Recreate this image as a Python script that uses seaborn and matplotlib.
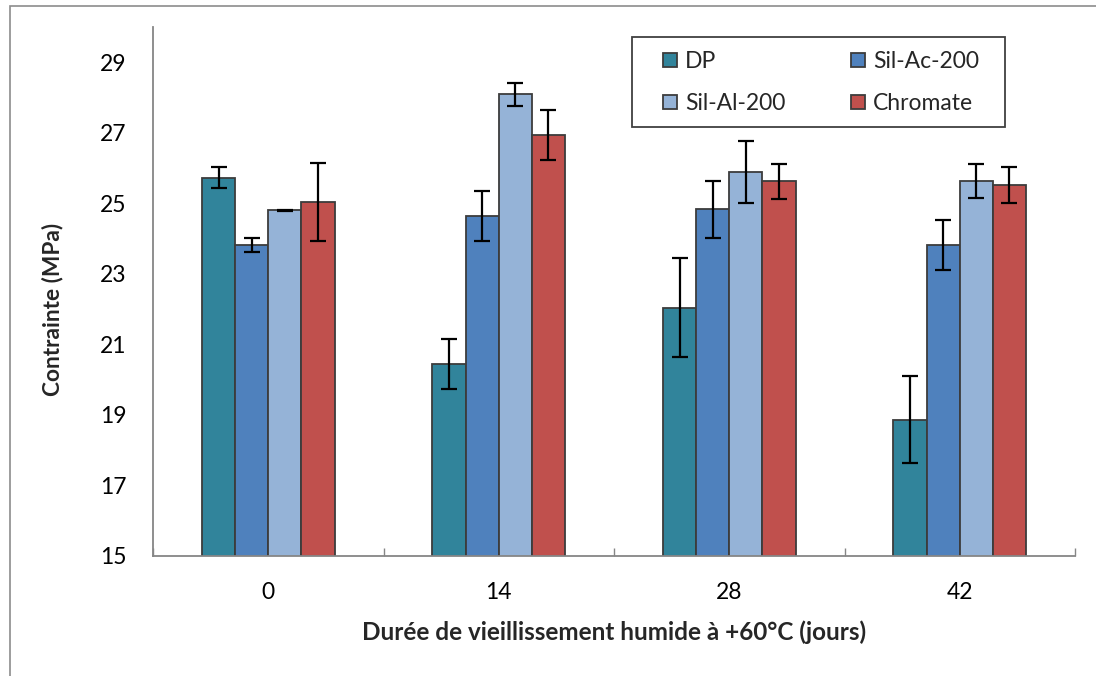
import numpy as np
import pandas as pd
import matplotlib
matplotlib.use("Agg")
import matplotlib.pyplot as plt
from matplotlib.patches import Rectangle
from matplotlib.ticker import FixedLocator
import seaborn as sns

# Ageing durations (days) and tensile stress per surface treatment
days = ["0", "14", "28", "42"]
series = ["DP", "Sil-Ac-200", "Sil-Al-200", "Chromate"]
dp_mean = [25.73, 20.45, 22.04, 18.86]
dp_err = [0.30, 0.71, 1.41, 1.23]
silac_mean = [23.82, 24.64, 24.83, 23.82]
silac_err = [0.20, 0.71, 0.80, 0.70]
silal_mean = [24.80, 28.09, 25.89, 25.63]
silal_err = [0.02, 0.32, 0.88, 0.48]
chromate_mean = [25.03, 26.93, 25.62, 25.52]
chromate_err = [1.10, 0.71, 0.50, 0.50]
colors = ["#31849B", "#4F81BD", "#95B3D7", "#C0504D"]

means = [dp_mean, silac_mean, silal_mean, chromate_mean]
errs = [dp_err, silac_err, silal_err, chromate_err]

df = pd.DataFrame({
    "jours": np.tile(days, len(series)),
    "serie": np.repeat(series, len(days)),
    "contrainte": np.concatenate(means),
})

sns.set_theme(style="white")
plt.rcParams["font.family"] = ["Lato", "DejaVu Sans"]

W, H = 1096, 676
fig = plt.figure(figsize=(W / 100, H / 100), dpi=100)
ax = fig.add_axes([153 / W, 1 - 556 / H, 922 / W, 529 / H])

sns.barplot(data=df, x="jours", y="contrainte", hue="serie", order=days,
            hue_order=series, palette=colors, width=0.575, errorbar=None,
            edgecolor="#3c3c3c", linewidth=1.3, saturation=1, ax=ax)

# Error bars centred on each drawn bar
for cont, err in zip(ax.containers, errs):
    xs = [b.get_x() + b.get_width() / 2 for b in cont]
    ys = [b.get_height() for b in cont]
    ax.errorbar(xs, ys, yerr=err, fmt="none", ecolor="black",
                elinewidth=1.6, capsize=5.5, capthick=1.6, zorder=5)

ax.set_ylim(15, 30)
ax.set_xlim(-0.5, 3.5)
ax.set_yticks(np.arange(15, 30, 2))
ax.tick_params(axis="y", direction="in", length=5, width=1, color="#868686",
               pad=19, labelsize=16.5, labelcolor="black")
ax.tick_params(axis="x", which="major", length=0, pad=19, labelsize=16.5,
               labelcolor="black")
ax.xaxis.set_minor_locator(FixedLocator([-0.5, 0.5, 1.5, 2.5, 3.5]))
ax.tick_params(axis="x", which="minor", direction="in", length=6, width=1,
               color="#868686", bottom=True)

for s in ["top", "right"]:
    ax.spines[s].set_visible(False)
for s in ["left", "bottom"]:
    ax.spines[s].set_color("#868686")
    ax.spines[s].set_linewidth(1.3)

ax.set_xlabel("Durée de vieillissement humide à +60°C (jours)",
              fontsize=17.5, fontweight="bold")
ax.set_ylabel("Contrainte (MPa)", fontsize=16.3, fontweight="bold")
ax.xaxis.set_label_coords(0.5, -0.1437)
ax.yaxis.set_label_coords(-0.1095, 0.467)
ax.xaxis.label.set_va("center")
ax.yaxis.label.set_va("center")

handles, labels = ax.get_legend_handles_labels()
ax.get_legend().remove()
order = [0, 2, 1, 3]
leg = ax.legend([handles[i] for i in order], [labels[i] for i in order],
                ncol=2, loc="upper left",
                bbox_to_anchor=((663 - 153) / 922, (556 - 51) / 529),
                fontsize=16.5, frameon=False,
                handlelength=0.62, handleheight=0.62, handletextpad=0.35,
                columnspacing=2.85, labelspacing=0.92, borderpad=0,
                borderaxespad=0)
# Legend box
ax.add_patch(Rectangle(((632 - 153) / 922, (556 - 127) / 529), 373 / 922,
                       90 / 529, transform=ax.transAxes, fill=False,
                       edgecolor="#404040", linewidth=1.3, clip_on=False,
                       zorder=6))

# Chart-area border
fig.add_artist(Rectangle((10 / W, -0.2), 1.2, 1.2 - 6 / H,
                         transform=fig.transFigure, fill=False,
                         edgecolor="#8c8c8c", linewidth=1.2))

fig.savefig("out.png", dpi=100)
